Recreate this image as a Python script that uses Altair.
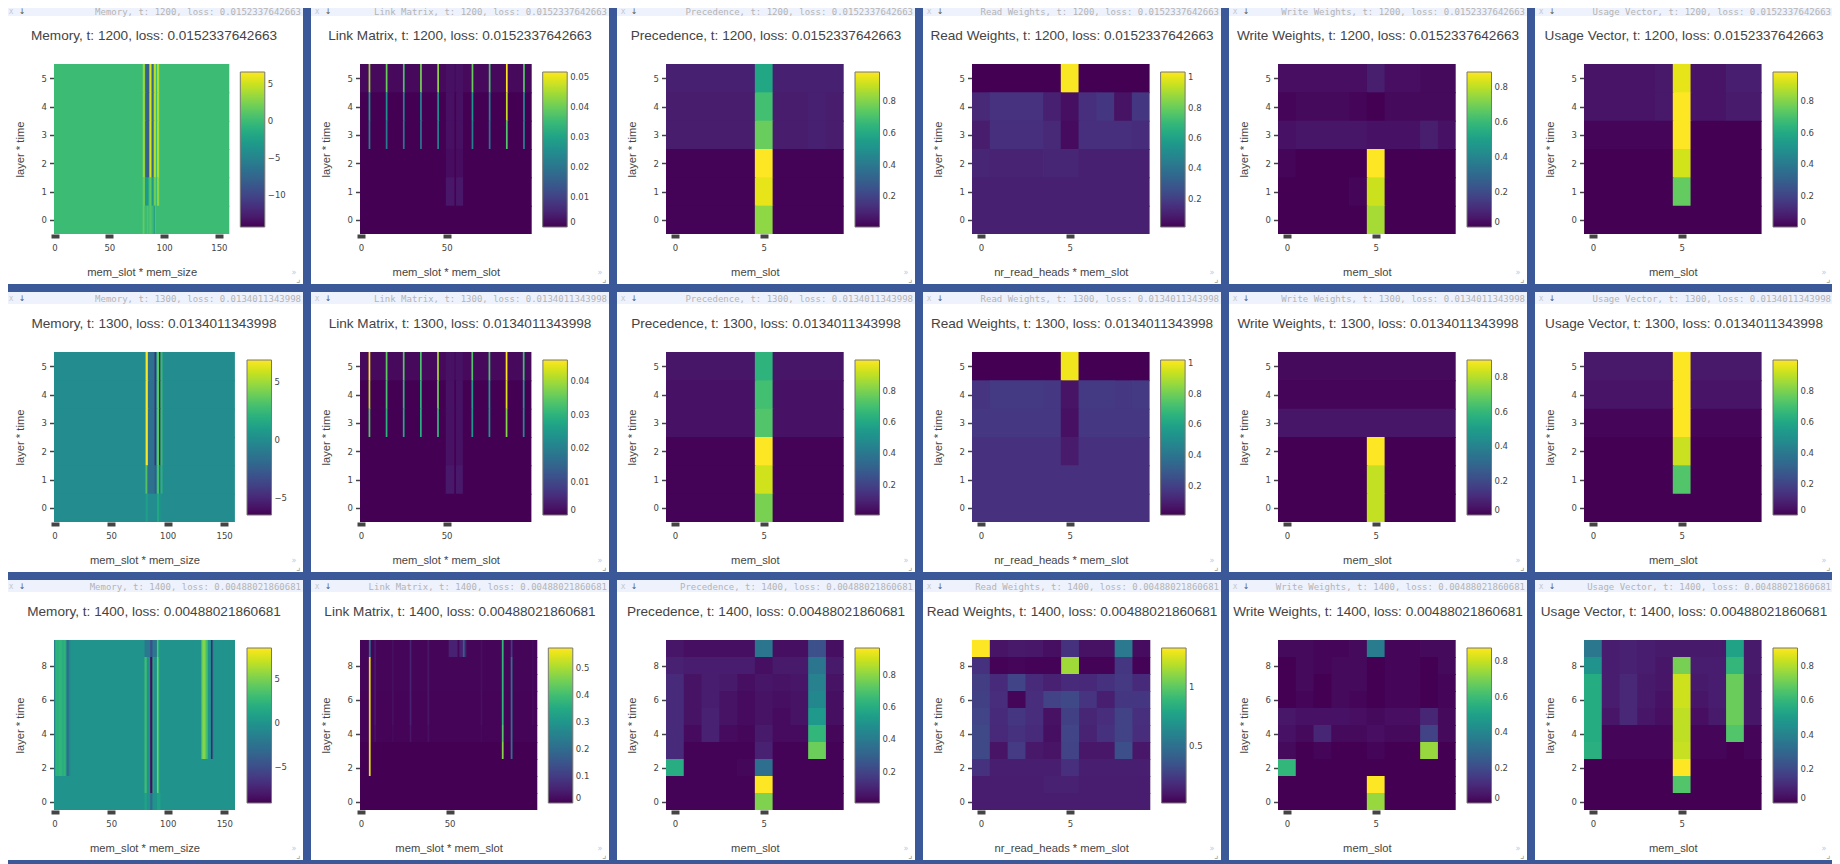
import altair as alt
import pandas as pd

TIMES = [1200, 1300, 1400]
LOSSES = ["0.0152337642663", "0.0134011343998", "0.00488021860681"]
NAMES = ["Memory", "Link Matrix", "Precedence", "Read Weights", "Write Weights", "Usage Vector"]
X_TITLES = ["mem_slot * mem_size", "mem_slot * mem_slot", "mem_slot",
            "nr_read_heads * mem_slot", "mem_slot", "mem_slot"]
X_TICKS = [[0, 50, 100, 150], [0, 50], [0, 5], [0, 5], [0, 5], [0, 5]]

# ---- colour ranges and colourbar ticks, row by row
DOMAINS = [
    [[-14.4, 6.7], [0, 0.0518], [0.006, 0.985], [0.013, 1.035], [0, 0.887], [0, 0.985]],
    [[-6.5, 6.95], [0, 0.0464], [0.005, 1.0], [0.01, 1.02], [0, 0.9], [0, 1.0]],
    [[-9, 8.45], [0, 0.574], [0.006, 0.965], [0.014, 1.336], [0, 0.876], [0, 0.906]],
]
P = [0.2, 0.4, 0.6, 0.8]
Z = [0, 0.2, 0.4, 0.6, 0.8]
LEGEND_TICKS = [
    [[-10, -5, 0, 5], [0, 0.01, 0.02, 0.03, 0.04, 0.05], P, P + [1], Z, Z],
    [[-5, 0, 5], [0, 0.01, 0.02, 0.03, 0.04], P, P + [1], Z, Z],
    [[-5, 0, 5], [0, 0.1, 0.2, 0.3, 0.4, 0.5], P, [0.5, 1], Z, Z],
]

# ---- memory: word values of the visible slots, per layer*time row
M1_HOT = [0, 3.5, 3.5, -6, -8, -8.5, -8, 5.5, 5.5, -7, -7, 4.5, 4.5, 0, 4, 4]
M1_Y1 = [0, 2, 2, -3, -3, -3, -1, 1.5, 1.5, -3, -3, 2, 2, 0, 3, 3]
M1_Y0 = [0, 2, 1, 0, 0, 1, 0, 1, 1, 0, 0, -3, 1, 0, 0, 0]
M2_HOT = [0, 6.9, 6.9, -1.5, -1.5, -1.5, -1.5, -1.5, -1.5, -5.5, -1, 3.5, 3.5, -6.5, 2.5, 2.5]
M2_Y1 = [0, 4, 1, -1.5, -1.5, -1.5, -1.5, -1.5, -1.5, -3, -1, 3, 3, -3, 2, 2]
M2_Y0 = [0, 1, 1, 0, 0, 0, 0, 0, 0, 0, 0, 1.5, 1.5, 0, 0.5, 0]
M3_SLOT0 = [-1.5, 2, 2.5, 2, 2.5, 2.5, 2.5, 2, 2, 2.5, 1.5, -3, -3, -1, -0.5, 0]
M3_SLOT5_TOP = [-2, -2, -2, -2, -2, -5, -5, -2, -2, -2, -2, 4, 2, 0, 0, 0]
M3_SLOT5 = [3, 3, 0, 0, 0, -8.5, -8.5, 2, 0, 0, 0, 5, 3, 0, 0, 0]
M3_SLOT5_Y0 = [1, 1, 0, 0, 0, -3, -3, 0, 0, 0, 0, 1, 1, 1, 0, 0]
M3_SLOT8 = [0, 0, 3, 5, 5.5, 5, 3.5, 3, 0, 0, -1, -8.5, -1, 0, 0, 0]

MEMORY_ROWS = [
    [{80: M1_HOT}] * 4 + [{80: M1_Y1}, {80: M1_Y0}],
    [{80: M2_HOT}] * 4 + [{80: M2_Y1}, {80: M2_Y0}],
    [{80: M3_SLOT5_TOP, 0: M3_SLOT0, 128: M3_SLOT8}]
    + [{80: M3_SLOT5, 0: M3_SLOT0, 128: M3_SLOT8}] * 6
    + [{80: M3_SLOT5, 0: M3_SLOT0}]
    + [{80: M3_SLOT5}, {80: M3_SLOT5_Y0}],
]

# ---- link matrix: stripes at fixed columns, bands in 50-59
L_COLS = [5, 15, 25, 35, 45, 65, 75, 85, 95]
L1_Y5 = [0.044, 0.04, 0.037, 0.041, 0.043, 0.04, 0.037, 0.0518, 0.038]
L1_Y4 = [0.028, 0.026, 0.023, 0.024, 0.026, 0.027, 0.024, 0.047, 0.024]
L1_Y3 = [0.022, 0.021, 0.02, 0.02, 0.022, 0.022, 0.02, 0.038, 0.022]
L2_Y5 = [0.0464, 0.035, 0.034, 0.033, 0.04, 0.034, 0.033, 0.0464, 0.032]
L2_Y4 = [0.042, 0.033, 0.03, 0.03, 0.036, 0.026, 0.025, 0.044, 0.024]
L2_Y3 = [0.034, 0.03, 0.028, 0.029, 0.031, 0.024, 0.024, 0.038, 0.022]
L_BAND = [0, 1, 2, 3, 4, 6, 7, 8, 9]
L3_COLS = [5, 8, 18, 28, 38, 68, 80, 85, 97]
L3_Y9 = [0.22, 0.035, 0.02, 0.05, 0.03, 0.02, 0.38, 0.1, 0.015]
L3_Y8 = [0.55, 0.035, 0.02, 0.05, 0.03, 0.02, 0.38, 0.22, 0.015]
L3_Y4 = [0.55, 0.025, 0.012, 0.03, 0.02, 0.012, 0.42, 0.22, 0.008]
L3_Y3 = [0.55, 0, 0, 0, 0, 0, 0.47, 0.22, 0]
L3_Y2 = [0.55, 0, 0, 0, 0, 0, 0, 0, 0]
L_BASE = [
    [0.001, 0, 0, 0, 0, 0],
    [0.001, 0, 0, 0, 0, 0],
    [0.006, 0.006, 0.006, 0.005, 0.005, 0.004, 0, 0, 0, 0],
]

# ---- ten-slot panels, top row first
PREC_1 = [[.09, .09, .09, .09, .09, .59, .09, .09, .09, .09],
          [.08, .08, .08, .08, .08, .69, .08, .08, .09, .08],
          [.08, .08, .08, .08, .08, .76, .08, .08, .09, .08],
          [.01, .01, .01, .01, .01, .985, .01, .01, .01, .01],
          [.01, .01, .01, .01, .01, .95, .01, .01, .01, .01],
          [.01, .01, .01, .01, .01, .82, .01, .01, .01, .01]]
READ_1 = [[.013, .013, .013, .013, .013, 1.03, .013, .013, .013, .013],
          [.13, .16, .16, .16, .10, .05, .15, .17, .06, .17],
          [.09, .15, .15, .15, .13, .04, .15, .15, .15, .14],
          [.12, .11, .11, .11, .12, .12, .10, .10, .10, .10],
          [.10, .10, .10, .10, .10, .10, .10, .10, .10, .10],
          [.10, .10, .10, .10, .10, .10, .10, .10, .10, .10]]
WRITE_1 = [[.03, .03, .03, .03, .03, .07, .03, .03, .02, .02],
           [.01, .02, .02, .02, .01, 0, .02, .02, .02, .02],
           [.04, .05, .05, .05, .05, .04, .04, .04, .07, .04],
           [.01, 0, 0, 0, 0, .887, 0, 0, 0, 0],
           [0, 0, 0, 0, .01, .82, 0, 0, 0, 0],
           [0, 0, 0, 0, 0, .77, 0, 0, 0, 0]]
USAGE_1 = [[.05, .05, .05, .05, .06, .95, .05, .05, .08, .08],
           [.05, .05, .05, .05, .06, .985, .05, .05, .07, .07],
           [.01, .01, .01, .01, .01, .985, 0, 0, 0, 0],
           [0, 0, 0, 0, 0, .92, 0, 0, 0, 0],
           [0, 0, 0, 0, 0, .75, 0, 0, 0, 0],
           [0, 0, 0, 0, 0, 0, 0, 0, 0, 0]]
PREC_2 = [[.06, .06, .06, .06, .06, .65, .06, .06, .06, .06],
          [.05, .05, .05, .05, .05, .70, .05, .05, .05, .05],
          [.05, .05, .05, .05, .05, .73, .05, .05, .05, .05],
          [.01, .01, .01, .01, .01, 1.0, .01, .01, .01, .01],
          [.01, .01, .01, .01, .01, .93, .01, .01, .01, .01],
          [.01, .01, .01, .01, .01, .80, .01, .01, .01, .01]]
READ_2 = [[.01, .01, .01, .01, .01, 1.0, .01, .01, .01, .01],
          [.16, .18, .18, .18, .17, .06, .18, .18, .17, .18],
          [.17, .17, .17, .17, .17, .05, .17, .17, .17, .17],
          [.15, .15, .15, .15, .15, .08, .15, .15, .15, .15],
          [.15, .15, .15, .15, .15, .15, .15, .15, .15, .15],
          [.15, .15, .15, .15, .15, .15, .15, .15, .15, .15]]
WRITE_2 = [[.02, .02, .02, .02, .02, .02, .02, .02, .02, .02],
           [.01, .01, .01, .01, .01, .01, .01, .01, .01, .01],
           [.05, .05, .05, .05, .05, .05, .05, .05, .05, .05],
           [0, 0, 0, 0, 0, .9, 0, 0, 0, 0],
           [0, 0, 0, 0, 0, .82, 0, 0, 0, 0],
           [0, 0, 0, 0, 0, .82, 0, 0, 0, 0]]
USAGE_2 = [[.06, .06, .06, .06, .06, 1.0, .06, .06, .06, .06],
           [.05, .05, .05, .05, .05, 1.0, .05, .05, .05, .05],
           [.01, .01, .01, .01, .01, 1.0, .01, .01, .01, .01],
           [0, 0, 0, 0, 0, .92, 0, 0, 0, 0],
           [0, 0, 0, 0, 0, .73, 0, 0, 0, 0],
           [0, 0, 0, 0, 0, 0, 0, 0, 0, 0]]
PREC_3 = [[.06, .04, .04, .04, .04, .38, .04, .04, .24, .04],
          [.09, .08, .08, .08, .08, .04, .07, .07, .38, .07],
          [.12, .05, .08, .07, .04, .06, .05, .06, .42, .05],
          [.12, .05, .08, .05, .03, .05, .04, .05, .45, .04],
          [.12, .05, .09, .05, .03, .05, .03, .05, .52, .04],
          [.12, .03, .09, .03, .02, .07, .03, .03, .64, .02],
          [.12, .01, .01, .01, .01, .09, .01, .01, .75, .01],
          [.60, .01, .01, .01, .02, .35, .01, .01, .01, .01],
          [.01, .01, .01, .01, .01, .965, .01, .01, .01, .01],
          [.01, .01, .01, .01, .01, .78, .01, .01, .01, .01]]
READ_3 = [[1.336, .08, .10, .09, .06, .20, .07, .07, .55, .05],
          [.20, .02, .03, .02, .02, 1.15, .02, .02, .22, .02],
          [.25, .17, .28, .17, .13, .17, .16, .20, .23, .17],
          [.26, .18, .03, .18, .27, .30, .21, .12, .22, .22],
          [.28, .17, .22, .18, .07, .26, .15, .18, .27, .19],
          [.30, .16, .20, .17, .06, .28, .14, .20, .27, .18],
          [.30, .08, .24, .10, .08, .27, .09, .09, .33, .09],
          [.20, .12, .12, .12, .12, .19, .12, .12, .12, .12],
          [.11, .11, .11, .11, .13, .13, .11, .11, .11, .11],
          [.11, .11, .11, .11, .11, .11, .11, .11, .11, .11]]
WRITE_3 = [[.02, .02, .01, .01, .02, .36, .01, .01, .02, .02],
           [0, .02, .01, .02, .02, 0, .01, .01, 0, .02],
           [0, .02, 0, .02, .02, 0, .01, .01, 0, .01],
           [0, .01, 0, .02, .01, 0, .01, .01, 0, .01],
           [.05, .04, .04, .04, .03, .02, .03, .03, .09, .02],
           [.04, .02, .09, .02, .02, .03, .02, .02, .17, .02],
           [.02, 0, .01, 0, 0, .01, 0, 0, .74, 0],
           [.58, 0, 0, 0, 0, 0, 0, 0, 0, 0],
           [0, 0, 0, 0, 0, .876, 0, 0, 0, 0],
           [0, 0, 0, 0, 0, .74, 0, 0, 0, 0]]
USAGE_3 = [[.36, .07, .08, .07, .06, .06, .06, .06, .52, .06],
           [.46, .07, .08, .07, .05, .72, .07, .07, .60, .06],
           [.56, .07, .10, .06, .05, .84, .06, .07, .70, .05],
           [.56, .07, .10, .06, .04, .84, .05, .07, .70, .05],
           [.56, .05, .10, .05, .03, .82, .03, .06, .70, .05],
           [.56, .01, .01, .01, .01, .82, .01, .01, .66, .01],
           [.57, .01, .01, .01, .01, .83, .01, .01, 0, .01],
           [0, 0, 0, 0, 0, .906, 0, 0, 0, 0],
           [0, 0, 0, 0, 0, .66, 0, 0, 0, 0],
           [0, 0, 0, 0, 0, 0, 0, 0, 0, 0]]

SMALL = [[PREC_1, READ_1, WRITE_1, USAGE_1],
         [PREC_2, READ_2, WRITE_2, USAGE_2],
         [PREC_3, READ_3, WRITE_3, USAGE_3]]

# ---- panel layout (px inside a 298x280 card)
PLOT_RIGHT = [[224.3, 220.7, 226.7, 226.6, 226.7, 226.6],
              [229.9, 220.4, 226.7, 226.6, 226.7, 226.6],
              [230.0, 226.3, 226.7, 227.3, 226.7, 226.6]]
LEGEND_X = [[235.3, 231.7, 238, 237.6, 238, 238],
            [242, 231.9, 238, 237.6, 238, 238],
            [242, 237.3, 238, 238.6, 238, 238]]
CARD_W, CARD_H = 298, 280
PLOT_L, PLOT_T, PLOT_B = 49, 60, 230
TEXT = "#444444"
SANS = "Liberation Sans"
TICKF = "DejaVu Sans"
ONE = pd.DataFrame({"a": [0]})


def wide(n_cols, rows):
    out = []
    for parts in rows:
        row = [0.0] * n_cols
        for start, vals in parts.items():
            for i, v in enumerate(vals):
                row[start + i] = v
        out.append(row)
    return out


def link(base, stripes, bands=None):
    rows = []
    for r, b in enumerate(base):
        row = [b] * 100
        if bands and bands[r]:
            for c in L_BAND:
                row[50 + c] = bands[r]
        cols, vals = stripes[r] if stripes[r] else ([], [])
        for c, v in zip(cols, vals):
            row[c] = v
        rows.append(row)
    return rows


LINKS = [
    link(L_BASE[0], [(L_COLS, L1_Y5), (L_COLS, L1_Y4), (L_COLS, L1_Y3), None, None, None],
         [.002, .002, .002, .0015, .003, 0]),
    link(L_BASE[1], [(L_COLS, L2_Y5), (L_COLS, L2_Y4), (L_COLS, L2_Y3), None, None, None],
         [.002, .002, .002, .002, .003, 0]),
    link(L_BASE[2], [(L3_COLS + [58], L3_Y9 + [.17]), (L3_COLS, L3_Y8), (L3_COLS, L3_Y8), (L3_COLS, L3_Y8),
                     (L3_COLS, L3_Y8), (L3_COLS, L3_Y4), (L3_COLS, L3_Y3), (L3_COLS, L3_Y2), None, None],
         [.05, 0, 0, 0, 0, 0, 0, 0, 0, 0]),
]


def cells(rows, plot_w):
    """Top row first; equal neighbours join into one rect, and each rect runs about a
    pixel under the next one drawn so no seam shows between them."""
    recs = []
    n, m = len(rows), len(rows[0])
    lap_y = 1.0 / ((PLOT_B - PLOT_T) / n)
    lap_x = 0.8 / (plot_w / m)
    for r, row in enumerate(rows):
        y = n - 1 - r
        start = 0
        for c in range(1, m + 1):
            if c == m or row[c] != row[start]:
                recs.append({"x0": start - .5,
                             "x1": c - .5 + (lap_x if c < m else 0),
                             "y0": y - .5 - (lap_y if y > 0 else 0),
                             "y1": y + .5,
                             "v": row[start]})
                start = c
    return pd.DataFrame(recs)


def deco(text, x, y, **kw):
    return alt.Chart(ONE).mark_text(text=text, **kw).encode(x=alt.value(x), y=alt.value(y))


def panel(r, c):
    if c == 0:
        rows = wide(160, MEMORY_ROWS[r])
    elif c == 1:
        rows = LINKS[r]
    else:
        rows = SMALL[r][c - 2]
    n_cols, n_rows = len(rows[0]), len(rows)
    right = PLOT_RIGHT[r][c]
    label = f"{NAMES[c]}, t: {TIMES[r]}, loss: {LOSSES[r]}"
    dom = DOMAINS[r][c]
    cscale = alt.Scale(scheme="viridis", domain=dom)
    xs = alt.Scale(domain=[-.5, n_cols - .5], range=[PLOT_L, right], nice=False, zero=False)
    ys = alt.Scale(domain=[-.5, n_rows - .5], range=[PLOT_B, PLOT_T], nice=False, zero=False)
    y_ticks = list(range(0, 6)) if n_rows == 6 else [0, 2, 4, 6, 8]
    x_axis = alt.Axis(values=X_TICKS[c], title=X_TITLES[c], offset=PLOT_B - CARD_H, grid=False, domain=False,
                      tickColor=TEXT, tickSize=4, tickWidth=8, labelPadding=5, labelFont=TICKF, labelFontSize=8.5,
                      labelColor=TEXT, labelAngle=0, format="d", titleFont=SANS, titleFontSize=11.2,
                      titleFontWeight="normal", titleColor=TEXT, titleX=(PLOT_L + right) / 2,
                      titleY=268 - PLOT_B, titleAlign="center", titleBaseline="middle", labelFlush=False)
    y_axis = alt.Axis(values=y_ticks, title="layer * time", offset=-PLOT_L + .5, grid=False, domain=False,
                      tickColor=TEXT, tickSize=4, tickWidth=1.5, labelPadding=3, labelFont=TICKF, labelFontSize=8.5,
                      labelColor=TEXT, format="d", titleFont=SANS, titleFontSize=11.2, titleFontWeight="normal",
                      titleColor=TEXT, titleX=15.5 - PLOT_L + .5, titleY=(PLOT_T + PLOT_B) / 2, titleAngle=270,
                      titleAlign="center", titleBaseline="middle", labelFlush=False)
    legend = alt.Legend(orient="none", legendX=LEGEND_X[r][c], legendY=68, title=None, direction="vertical",
                        gradientLength=155, gradientThickness=24.5, gradientStrokeColor="#777777",
                        gradientStrokeWidth=1, values=LEGEND_TICKS[r][c], format="~r", labelFont=TICKF,
                        labelFontSize=8.5, labelColor=TEXT, labelOffset=3, labelOverlap=False, padding=0,
                        type="gradient")
    heat = alt.Chart(cells(rows, right - PLOT_L)).mark_rect(stroke=None).encode(
        x=alt.X("x0:Q", scale=xs, axis=x_axis),
        x2="x1:Q",
        y=alt.Y("y0:Q", scale=ys, axis=y_axis),
        y2="y1:Q",
        color=alt.Color("v:Q", scale=cscale, legend=legend),
    )
    bar = alt.Chart(ONE).mark_rect(color="#eef2fd").encode(
        x=alt.value(0), x2=alt.value(CARD_W), y=alt.value(0), y2=alt.value(12))
    top_y = 8 if r == 0 else 6.5
    layers = [
        bar,
        heat,
        deco(label, CARD_W - 2, top_y, font="DejaVu Sans Mono", fontSize=9, color="#b4b4b4", align="right", baseline="middle"),
        deco("X", 6, top_y, font="DejaVu Sans Mono", fontSize=7, color="#c4c4c4", baseline="middle"),
        deco("↓", 17, top_y, font="DejaVu Sans", fontSize=8, color="#555555", baseline="middle"),
        deco(label, CARD_W / 2, 32, font=SANS, fontSize=13.6, color=TEXT, baseline="middle"),
        deco("»", 289, 269, font="DejaVu Sans", fontSize=8, color="#b9c9f2", baseline="middle"),
        deco("⌟", 293, 275, font="DejaVu Sans", fontSize=9, color="#999999", baseline="middle"),
    ]
    return alt.layer(*layers).properties(width=CARD_W, height=CARD_H)


chart = alt.concat(*[panel(r, c) for r in range(3) for c in range(6)], columns=6, spacing=8).resolve_scale(
    color="independent"
).properties(
    padding={"left": -3, "top": -4, "right": -1, "bottom": 4},
).configure(background="#3b5998").configure_view(fill="white", stroke=None)

chart.save("out.html", embed_options={"renderer": "svg", "actions": False})
